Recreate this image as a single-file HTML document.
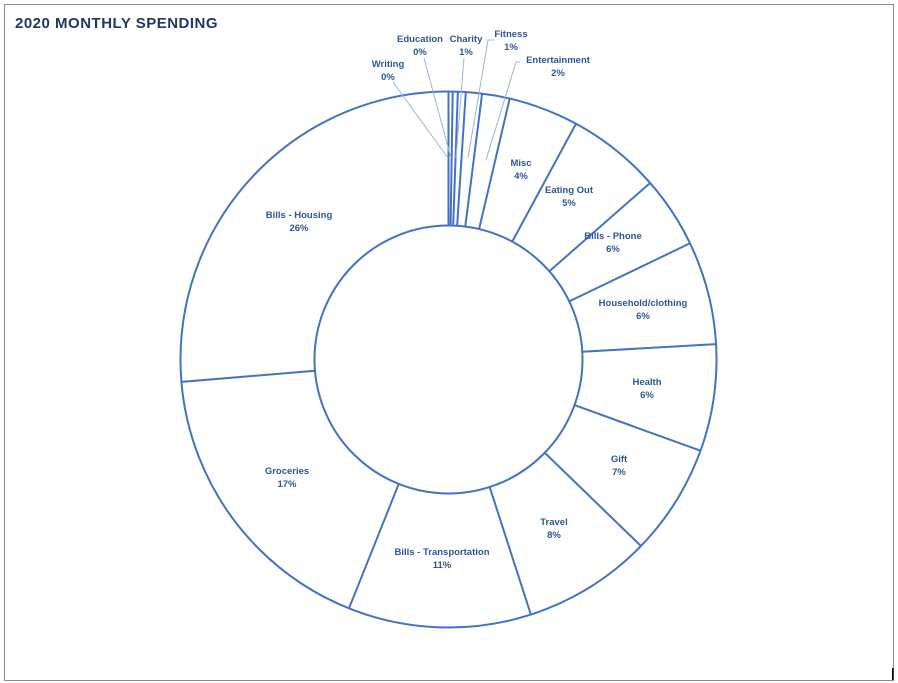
<!DOCTYPE html>
<html><head><meta charset="utf-8"><style>
html,body{margin:0;padding:0;background:#fff;width:898px;height:683px;overflow:hidden}
svg{display:block}
text{font-family:"Liberation Sans",sans-serif;font-weight:bold;font-size:9.5px;fill:#2F5597;text-anchor:middle}
</style></head><body>
<svg id="s" width="898" height="683" xmlns="http://www.w3.org/2000/svg">
<rect x="4.5" y="4.5" width="889" height="676" fill="#fff" stroke="#8c8c8c" stroke-width="1"/>
<text x="15" y="28" style="font-size:15px;fill:#1F3864;text-anchor:start;letter-spacing:0.5px">2020 MONTHLY SPENDING</text>
<circle cx="448.5" cy="359.5" r="268" fill="none" stroke="#4472C4" stroke-width="2"/>
<circle cx="448.5" cy="359.5" r="134" fill="none" stroke="#4472C4" stroke-width="2"/>
<g id="lines" stroke="#4472C4" stroke-width="2"></g>
<g stroke="#9DB3DC" stroke-width="1" fill="none">
<polyline points="393,82 448,158"/>
<polyline points="424,58 451,158"/>
<polyline points="464,58 456,158"/>
<polyline points="494,40 488,40 468,158"/>
<polyline points="520,62 516,62 486,160"/>
</g>
<g>
<text x="388" y="67">Writing</text><text x="388" y="80">0%</text>
<text x="420" y="42">Education</text><text x="420" y="55">0%</text>
<text x="466" y="42">Charity</text><text x="466" y="55">1%</text>
<text x="511" y="37">Fitness</text><text x="511" y="50">1%</text>
<text x="558" y="63">Entertainment</text><text x="558" y="76">2%</text>
<text x="521" y="166">Misc</text><text x="521" y="179">4%</text>
<text x="569" y="193">Eating Out</text><text x="569" y="206">5%</text>
<text x="613" y="239">Bills - Phone</text><text x="613" y="252">6%</text>
<text x="643" y="306">Household/clothing</text><text x="643" y="319">6%</text>
<text x="647" y="385">Health</text><text x="647" y="398">6%</text>
<text x="619" y="462">Gift</text><text x="619" y="475">7%</text>
<text x="554" y="525">Travel</text><text x="554" y="538">8%</text>
<text x="442" y="555">Bills - Transportation</text><text x="442" y="568">11%</text>
<text x="287" y="474">Groceries</text><text x="287" y="487">17%</text>
<text x="299" y="218">Bills - Housing</text><text x="299" y="231">26%</text>
</g>
<rect x="892" y="668" width="1.5" height="12" fill="#000"/>
</svg>
<script>
var a=[0,0.9,2,3.7,7.2,13.2,28.4,48.8,64.3,86.7,109.9,134.1,162.1,201.8,265.2];
var g=document.getElementById('lines'),cx=448.5,cy=359.5;
a.forEach(function(d){var r=d*Math.PI/180,s=Math.sin(r),c=Math.cos(r);
var l=document.createElementNS('http://www.w3.org/2000/svg','line');
l.setAttribute('x1',cx+134*s);l.setAttribute('y1',cy-134*c);
l.setAttribute('x2',cx+268*s);l.setAttribute('y2',cy-268*c);g.appendChild(l);});
</script>
</body></html>
